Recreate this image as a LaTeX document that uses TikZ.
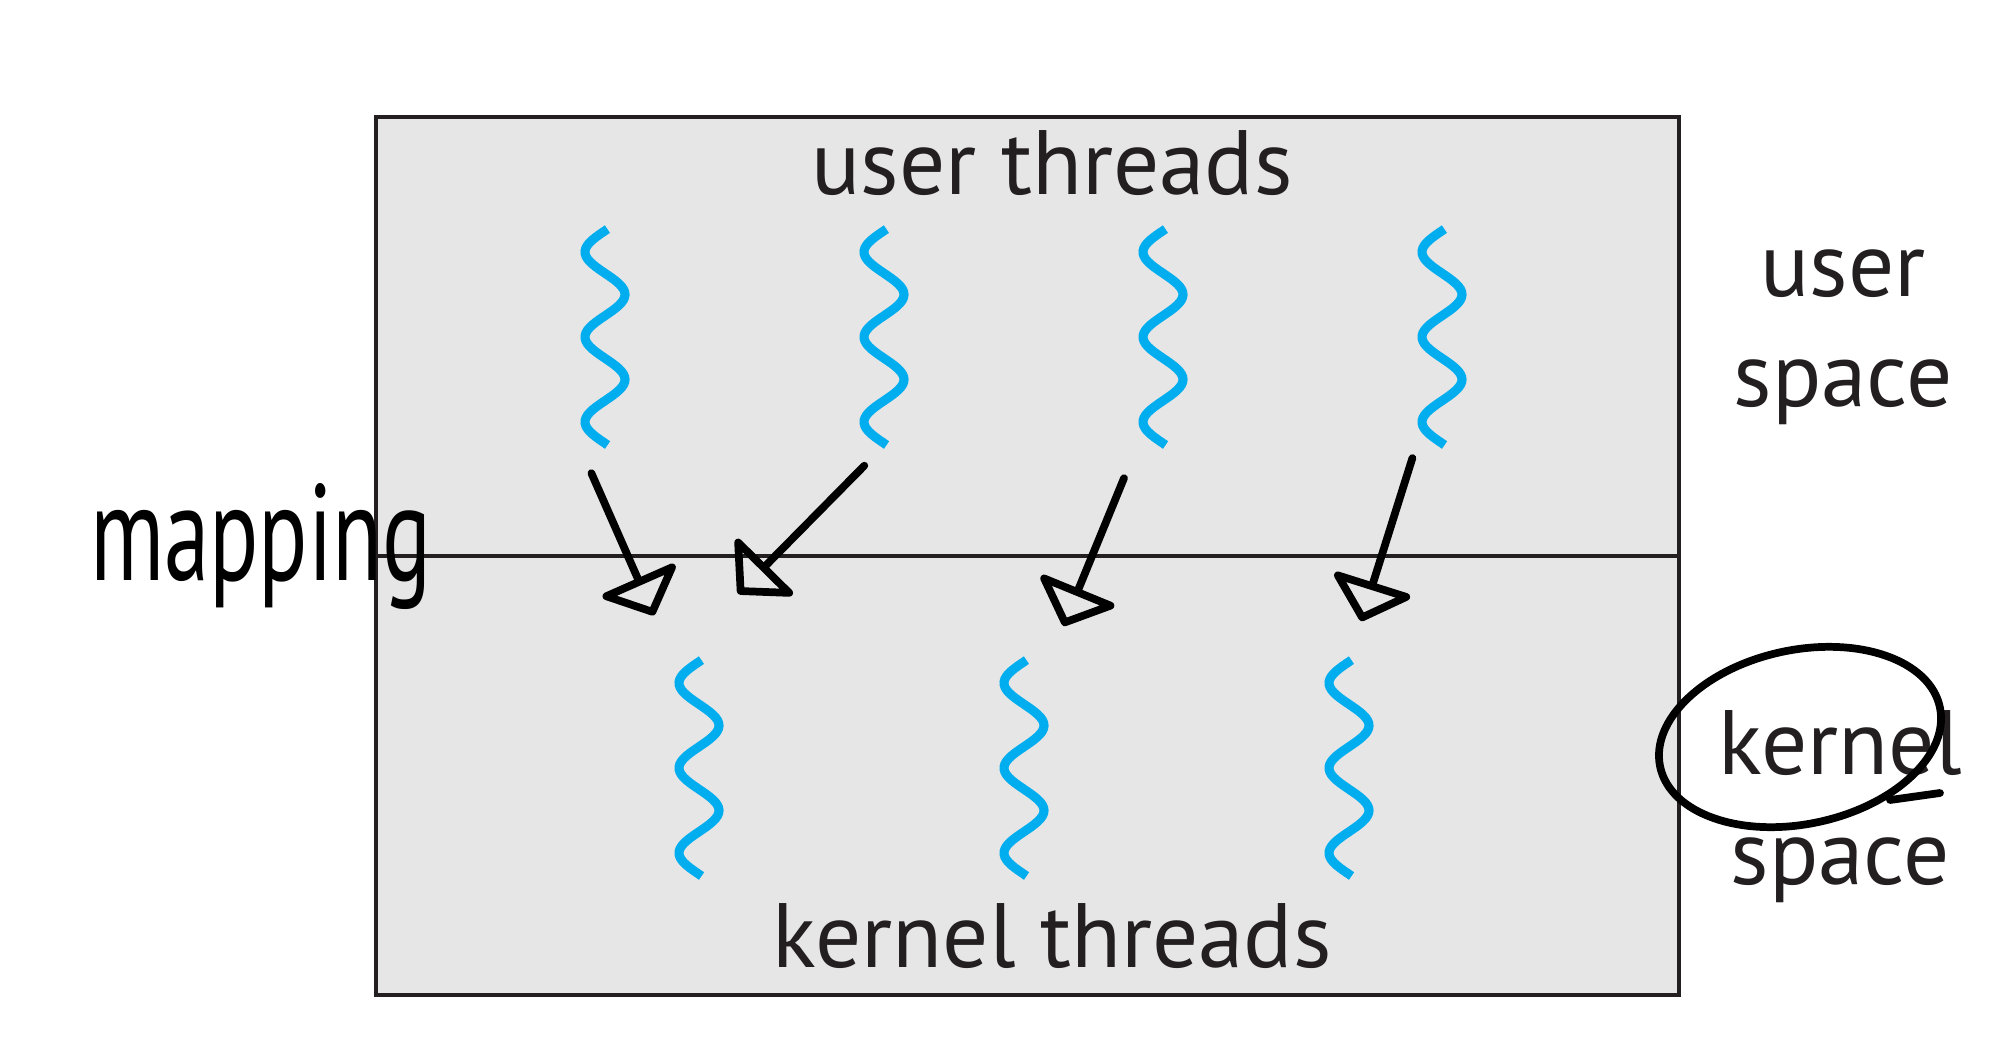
\documentclass[tikz,border=0pt]{standalone}
\usepackage{fontspec}
\setmainfont{PT Sans}
\usepackage{xcolor}
\usepackage{tikz}
\usetikzlibrary{arrows.meta, positioning}

\definecolor{ink}{HTML}{231F20}
\definecolor{thrblue}{HTML}{00AEEF}
\definecolor{panel}{HTML}{E6E6E6}

\begin{document}
\begin{tikzpicture}[
  region/.style={rectangle, draw=ink, fill=panel, line width=1.2pt,
                 minimum width=13.03cm, minimum height=4.39cm, inner sep=0pt},
  thr/.style={rectangle, minimum width=0.5cm, minimum height=2.16cm, inner sep=0pt},
  wave/.style={thrblue, line width=2.6pt},
  lbl/.style={text=ink, font=\fontsize{26}{31.2}\selectfont, inner sep=0pt},
  side/.style={lbl, align=center},
  hand/.style={black, line width=2.2pt, line cap=round, line join=round},
  map/.style={hand, -{Triangle[open, length=4.2mm, width=9mm, round]}}
]
\useasboundingbox (0,0) rectangle (20,-10.45);
%% Regions
\node[region] (usr) at (10.275,-3.365) {};
\node[region] (krn) at (10.275,-7.755) {};
%% Region labels
\node[lbl, anchor=base] (ut) at (10.52,-1.94) {user threads};
\node[lbl, anchor=base] (kt) at (10.52,-9.67) {kernel threads};
\node[side, anchor=base] (us) at (18.43,-4.06) {user\\space};
\node[side, anchor=base] (ks) at (18.40,-8.84) {kernel\\space};
%% User threads
\node[thr] (u1) at (6.05,-3.37) {};
\node[thr] (u2) at (8.84,-3.37) {};
\node[thr] (u3) at (11.63,-3.37) {};
\node[thr] (u4) at (14.42,-3.37) {};
%% Kernel threads
\node[thr] (k1) at (6.99,-7.68) {};
\node[thr] (k2) at (10.24,-7.68) {};
\node[thr] (k3) at (13.49,-7.68) {};
\foreach \n in {u1,u2,u3,u4,k1,k2,k3}
  \draw[wave, shift={(\n.center)}]
    plot[domain=-1.08:1.08, samples=80, variable=\s] ({-0.2*cos(360*\s/0.85)}, \s);
%% Mapping (hand drawn)
\node[lbl, text=black, anchor=base] (mp) at (2.61,-5.80) {\scalebox{1}[1.5]{mapping}};
\draw[map, shorten <=3mm, shorten >=4.8mm] (u1.south west) -- (k1.north west);
\draw[map, shorten <=2.8mm, shorten >=9.2mm] (u2.south) -- (k1.north west);
\draw[map, shorten <=3.5mm, shorten >=3.6mm] (u3.south west) -- (k2.north east);
\draw[map, shorten <=1.3mm, shorten >=4mm] (u4.south west) -- (k3.north);
%% Circle round kernel
\draw[hand, rotate around={12:(18.0,-7.37)}] (18.0,-7.37) ellipse (1.43cm and 0.87cm);
\draw[hand] (18.9,-8.0) -- (19.40,-7.93);
\end{tikzpicture}
\end{document}
